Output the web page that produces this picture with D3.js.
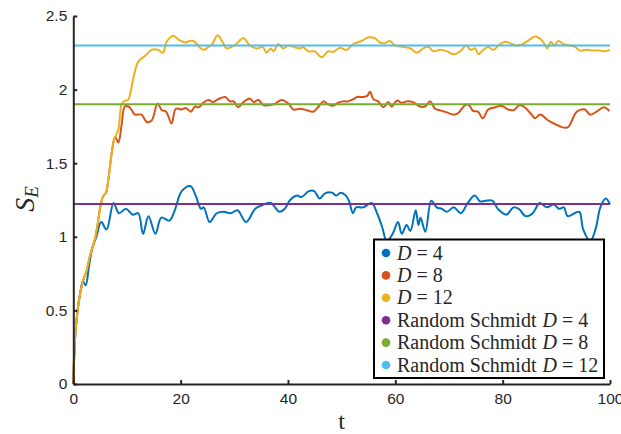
<!DOCTYPE html>
<html><head><meta charset="utf-8">
<script src="https://cdn.jsdelivr.net/npm/d3@7"></script>
<style>body{margin:0;background:#fff;} svg{display:block;}</style>
</head><body>
<svg id="c" width="621" height="434"></svg>
<script>
// ---- data ----
const xTicks = [0, 20, 40, 60, 80, 100];
const yTicks = [0, 0.5, 1, 1.5, 2, 2.5];
const yTickLabels = ["0", "0.5", "1", "1.5", "2", "2.5"];
const seriesNames = ["D = 4", "D = 8", "D = 12"];
const refNames = ["Random Schmidt D = 4", "Random Schmidt D = 8", "Random Schmidt D = 12"];
const refValues = [1.222, 1.90, 2.30];
const colors = ["#0072BD", "#D95319", "#EDB120", "#7E2F8E", "#77AC30", "#4DBEEE"];

const seriesD4 = [[0,0],[0.4,0.35],[0.8,0.5],[1.3,0.62],[1.8,0.7],[2.3,0.67],[3,0.82],[3.6,0.93],[4.3,1.0],[5.2,1.1],[6.2,1.05],[7.5,1.23],[8.5,1.16],[9.8,1.19],[11.1,1.15],[12.1,1.16],[13.0,1.02],[14.0,1.14],[15.3,1.02],[16.4,1.13],[17.9,1.11],[18.9,1.18],[20.2,1.31],[21.8,1.345],[22.8,1.28],[23.8,1.19],[24.3,1.2],[25.4,1.10],[26.7,1.16],[28.0,1.17],[29.3,1.16],[30.6,1.18],[32.2,1.10],[33.9,1.19],[35.5,1.22],[36.8,1.23],[37.6,1.2],[38.4,1.17],[39.4,1.19],[40.4,1.25],[41.7,1.28],[42.5,1.27],[43.9,1.31],[44.9,1.31],[45.9,1.26],[46.9,1.295],[48.2,1.30],[49.0,1.28],[49.8,1.30],[50.8,1.28],[51.4,1.24],[52.1,1.16],[52.7,1.20],[54.0,1.20],[55.6,1.23],[56.6,1.16],[57.6,1.06],[58.4,0.97],[59.5,1.02],[60.5,1.10],[61.2,1.02],[62.1,1.08],[62.8,1.04],[63.8,1.18],[64.3,1.08],[64.7,1.13],[65.6,1.035],[66.7,1.245],[67.7,1.20],[68.7,1.19],[69.6,1.17],[70.9,1.20],[72.2,1.16],[73.5,1.23],[74.8,1.28],[75.8,1.24],[76.8,1.245],[78.1,1.245],[79.1,1.19],[80.7,1.15],[82.0,1.20],[83.0,1.19],[84.3,1.14],[85.6,1.16],[86.9,1.23],[88.2,1.20],[89.5,1.22],[90.5,1.19],[91.4,1.20],[92.1,1.14],[93.4,1.16],[94.3,1.17],[95.0,1.05],[96.3,0.97],[97.3,1.05],[98.2,1.20],[99.2,1.26],[100,1.22]];

const seriesD8 = [[0,0],[0.3,0.3],[0.8,0.5],[1.3,0.62],[1.8,0.7],[2.4,0.76],[3.1,0.87],[4.0,0.98],[4.6,1.1],[5.0,1.2],[5.5,1.27],[6.1,1.30],[6.5,1.38],[7.2,1.58],[7.8,1.68],[8.4,1.64],[9.0,1.76],[9.6,1.885],[10.3,1.885],[10.9,1.86],[11.5,1.83],[12.7,1.83],[13.7,1.78],[14.6,1.79],[15.7,1.905],[16.5,1.86],[17.3,1.85],[18.3,1.77],[19.1,1.87],[20.2,1.865],[21.0,1.875],[21.9,1.85],[22.7,1.885],[23.4,1.88],[24.2,1.91],[25.2,1.93],[26.0,1.915],[27.0,1.935],[28.3,1.95],[29.2,1.92],[29.9,1.92],[30.7,1.88],[31.7,1.915],[32.9,1.94],[33.6,1.915],[34.5,1.93],[35.4,1.895],[36.7,1.895],[37.6,1.905],[38.8,1.93],[40.1,1.905],[41.0,1.865],[42.3,1.87],[43.5,1.86],[44.7,1.85],[45.7,1.885],[46.6,1.92],[47.5,1.9],[48.4,1.89],[49.3,1.91],[50.3,1.92],[51.2,1.92],[52.2,1.935],[52.9,1.95],[53.9,1.95],[54.7,1.955],[55.3,1.985],[55.9,1.935],[56.8,1.92],[57.8,1.88],[58.7,1.915],[59.3,1.885],[60.3,1.925],[61.2,1.91],[62.1,1.92],[63.3,1.915],[64.6,1.885],[65.5,1.885],[66.5,1.92],[67.4,1.87],[68.3,1.86],[69.6,1.845],[70.8,1.83],[71.7,1.84],[73.0,1.895],[73.7,1.895],[74.5,1.855],[75.4,1.85],[76.3,1.805],[77.3,1.865],[78.6,1.88],[79.8,1.89],[81.0,1.865],[82.0,1.86],[83.2,1.895],[84.1,1.88],[85.4,1.83],[86.0,1.805],[87.0,1.83],[88.5,1.79],[90.1,1.76],[91.0,1.745],[92.2,1.745],[92.9,1.79],[93.8,1.85],[95.3,1.865],[96.3,1.83],[97.5,1.85],[98.8,1.88],[99.9,1.855]];

const seriesD12 = [[0,0],[0.3,0.3],[0.8,0.5],[1.3,0.62],[1.8,0.7],[2.4,0.76],[3.1,0.87],[4.0,0.98],[4.6,1.1],[5.0,1.2],[5.5,1.27],[6.1,1.30],[6.5,1.38],[7.2,1.58],[7.6,1.66],[8.4,1.73],[9.0,1.9],[9.6,1.925],[10.2,1.93],[11.2,2.08],[12.1,2.19],[13.4,2.23],[14.6,2.27],[15.8,2.27],[16.7,2.25],[17.4,2.325],[18.6,2.365],[19.6,2.34],[20.8,2.32],[21.7,2.33],[22.4,2.33],[23.0,2.31],[24.2,2.27],[25.2,2.29],[25.9,2.31],[26.9,2.37],[27.7,2.33],[28.6,2.28],[29.5,2.29],[30.4,2.31],[31.7,2.35],[32.9,2.30],[34.2,2.28],[35.3,2.29],[36.0,2.25],[36.8,2.28],[37.3,2.26],[38.2,2.31],[39.1,2.28],[40.1,2.30],[41.1,2.29],[42.2,2.28],[42.8,2.29],[43.8,2.26],[45.0,2.26],[46.3,2.22],[47.5,2.26],[48.4,2.255],[49.7,2.285],[50.9,2.27],[52.2,2.31],[53.7,2.33],[55.0,2.355],[56.2,2.35],[57.1,2.32],[58.0,2.315],[59.0,2.33],[59.9,2.30],[61.5,2.29],[62.8,2.28],[64.0,2.25],[65.2,2.28],[66.2,2.29],[67.1,2.26],[68.3,2.27],[69.6,2.26],[70.8,2.24],[72.1,2.26],[73.2,2.30],[74.0,2.27],[74.9,2.28],[75.5,2.24],[76.4,2.27],[77.3,2.29],[78.3,2.27],[79.2,2.30],[80.4,2.325],[81.7,2.31],[82.6,2.30],[83.8,2.31],[85.0,2.34],[86.0,2.36],[87.0,2.345],[87.6,2.32],[88.3,2.28],[89.0,2.325],[89.6,2.30],[90.4,2.33],[91.3,2.31],[92.5,2.30],[93.5,2.29],[94.4,2.265],[95.6,2.27],[96.9,2.265],[98.1,2.265],[99.1,2.26],[100,2.27]];

// ---- drawing ----
const svg = d3.select("#c");
const x = d3.scaleLinear().domain([0, 100]).range([73.3, 610]);
const y = d3.scaleLinear().domain([0, 2.5]).range([384, 16]);
const axisColor = "#262626";

const line = d3.line().x(d => x(d[0])).y(d => y(d[1])).curve(d3.curveCatmullRom.alpha(0.5));
const plot = svg.append("g");
[seriesD4, seriesD8, seriesD12].forEach((s, i) => {
  plot.append("path").datum(s).attr("d", line)
    .attr("fill", "none").attr("stroke", colors[i]).attr("stroke-width", 2)
    .attr("stroke-linejoin", "round");
});
refValues.forEach((v, i) => {
  plot.append("path").datum([[0, v], [100, v]]).attr("d", line)
    .attr("fill", "none").attr("stroke", colors[3 + i]).attr("stroke-width", 2);
});

const ax = svg.append("g").attr("transform", "translate(0,384)")
  .call(d3.axisBottom(x).tickValues(xTicks).tickSizeInner(-4).tickSizeOuter(0).tickPadding(9).tickFormat(d3.format("d")));
const ay = svg.append("g").attr("transform", "translate(73.3,0)")
  .call(d3.axisLeft(y).tickValues(yTicks).tickSizeInner(-4).tickSizeOuter(0).tickPadding(6).tickFormat((d, i) => yTickLabels[i]));
[ax, ay].forEach(a => {
  a.select(".domain").attr("stroke", axisColor).attr("stroke-width", 2);
  a.selectAll(".tick line").attr("stroke", axisColor).attr("stroke-width", 2);
  a.selectAll(".tick text").attr("fill", axisColor)
    .style("font-family", "'Liberation Sans', Arial, sans-serif").style("font-size", "15.5px");
});

// axis labels
svg.append("text").attr("x", 341.5).attr("y", 429).attr("text-anchor", "middle")
  .style("font-family", "'Liberation Serif', serif").style("font-size", "24px").attr("fill", axisColor).text("t");
const yl = svg.append("text").attr("transform", "translate(34,199) rotate(-90)").attr("text-anchor", "middle")
  .style("font-family", "'Liberation Serif', serif").attr("fill", axisColor);
yl.append("tspan").style("font-style", "italic").style("font-size", "28px").text("S");
yl.append("tspan").style("font-style", "italic").style("font-size", "19px").attr("dy", 4).text("E");

// legend
const legendNames = seriesNames.concat(refNames);
const lg = svg.append("g");
lg.append("rect").attr("x", 374).attr("y", 239.5).attr("width", 230).attr("height", 138.5)
  .attr("fill", "#fff").attr("stroke", "#000").attr("stroke-width", 2);
const rowY = d3.scaleLinear().domain([0, 5]).range([253, 365]);
legendNames.forEach((name, i) => {
  const cy = rowY(i);
  lg.append("circle").attr("cx", 386).attr("cy", cy).attr("r", 4.3).attr("fill", colors[i]);
  const t = lg.append("text").attr("x", 397).attr("y", cy + 6.5)
    .style("font-family", "'Liberation Serif', serif").style("font-size", "20px").attr("fill", "#262626");
  const parts = name.split("D = ");
  if (parts[0]) t.append("tspan").text(parts[0].trim()).attr("dx", 0);
  t.append("tspan").style("font-style", "italic").attr("dx", parts[0] ? 6 : 0).text("D");
  t.append("tspan").attr("dx", 5).text("=");
  t.append("tspan").attr("dx", 5).text(parts[1]);
});
</script>
</body></html>
